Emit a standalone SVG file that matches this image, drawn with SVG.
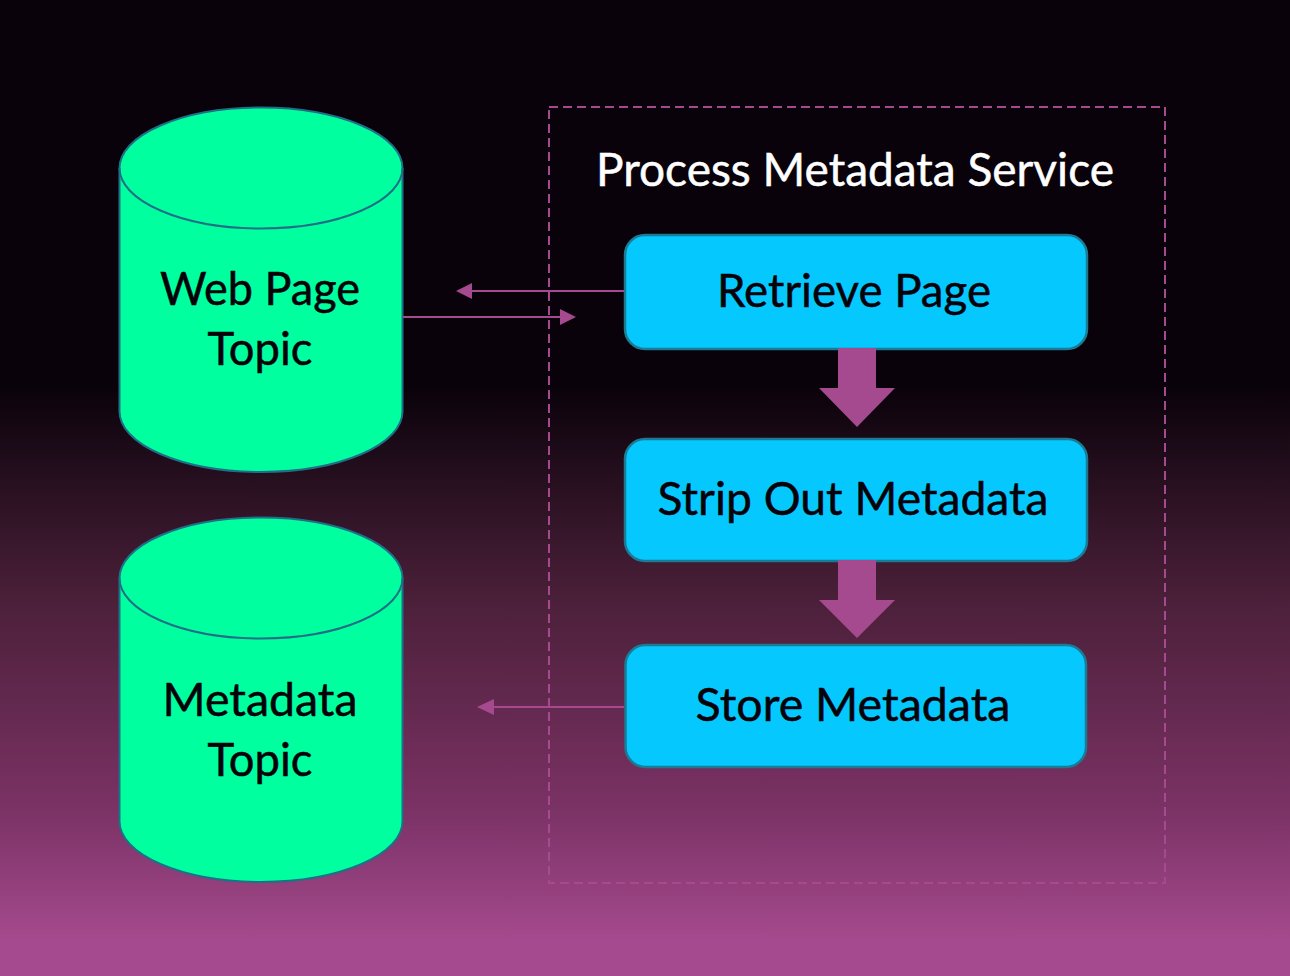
<svg xmlns="http://www.w3.org/2000/svg" width="1290" height="976" viewBox="0 0 1290 976">
<style>
.t{font-family:"Lato","Carlito","Noto Sans",sans-serif;font-size:46px;fill:#08020a;stroke:#08020a;stroke-width:0.5;text-anchor:middle}
.cyl{fill:#00ff9f;stroke:#206f86;stroke-width:2}
.box{fill:#05c9fe;stroke:#1d7a94;stroke-width:2.5}
.ln{stroke:#a54a8e;stroke-width:2;fill:none}
.hd{fill:#a54a8e}
</style>
<defs>
<linearGradient id="bg" gradientUnits="userSpaceOnUse" x1="0" y1="0" x2="0" y2="976">
<stop offset="0" stop-color="#09020a"/>
<stop offset="0.394" stop-color="#09020a"/>
<stop offset="0.618" stop-color="#4c203a"/>
<stop offset="0.83" stop-color="#7b3265"/>
<stop offset="0.965" stop-color="#a54a8e"/>
<stop offset="1" stop-color="#a54a8e"/>
</linearGradient>
</defs>
<rect width="1290" height="976" fill="url(#bg)"/>
<g id="service-frame">
<rect x="549" y="107" width="616" height="776" fill="none" stroke="#a54a8e" stroke-width="2" stroke-dasharray="9 5"/>
<text class="t" x="855" y="186" style="fill:#fff;stroke:#fff" textLength="518" lengthAdjust="spacingAndGlyphs">Process Metadata Service</text>
</g>
<g id="web-page-topic">
<path class="cyl" d="M119.5 168A141.5 60.5 0 0 1 402.5 168V411.5A141.5 60.5 0 0 1 119.5 411.5Z"/>
<path class="cyl" style="fill:none" d="M119.5 168A141.5 60.5 0 0 0 402.5 168"/>
<text class="t" x="260" y="305" textLength="200" lengthAdjust="spacingAndGlyphs">Web Page</text>
<text class="t" x="260" y="365" textLength="105" lengthAdjust="spacingAndGlyphs">Topic</text>
</g>
<g id="metadata-topic">
<path class="cyl" d="M119.5 578A141.5 60.5 0 0 1 402.5 578V821.5A141.5 60.5 0 0 1 119.5 821.5Z"/>
<path class="cyl" style="fill:none" d="M119.5 578A141.5 60.5 0 0 0 402.5 578"/>
<text class="t" x="260" y="716" textLength="195" lengthAdjust="spacingAndGlyphs">Metadata</text>
<text class="t" x="260" y="776" textLength="105" lengthAdjust="spacingAndGlyphs">Topic</text>
</g>
<g id="retrieve-page">
<rect class="box" x="625" y="235" width="462" height="114" rx="20"/>
<text class="t" x="854" y="307" textLength="274" lengthAdjust="spacingAndGlyphs">Retrieve Page</text>
</g>
<g id="strip-out-metadata">
<rect class="box" x="625" y="439" width="462" height="122" rx="20"/>
<text class="t" x="853" y="515" textLength="391" lengthAdjust="spacingAndGlyphs">Strip Out Metadata</text>
</g>
<g id="store-metadata">
<rect class="box" x="625.5" y="645" width="460.5" height="122" rx="20"/>
<text class="t" x="853" y="721" textLength="315" lengthAdjust="spacingAndGlyphs">Store Metadata</text>
</g>
<g id="connectors">
<path class="ln" d="M624 291H471"/>
<path class="hd" d="M456 291L472 283V299Z"/>
<path class="ln" d="M403 317H561"/>
<path class="hd" d="M576 317L560 309V325Z"/>
<path class="ln" d="M624 707H493"/>
<path class="hd" d="M477 707L494 699V715Z"/>
<path class="hd" d="M838 348H876V388H895L857 427L819 388H838Z"/>
<path class="hd" d="M838 560H876V600H895L857 638L819 600H838Z"/>
</g>
</svg>
